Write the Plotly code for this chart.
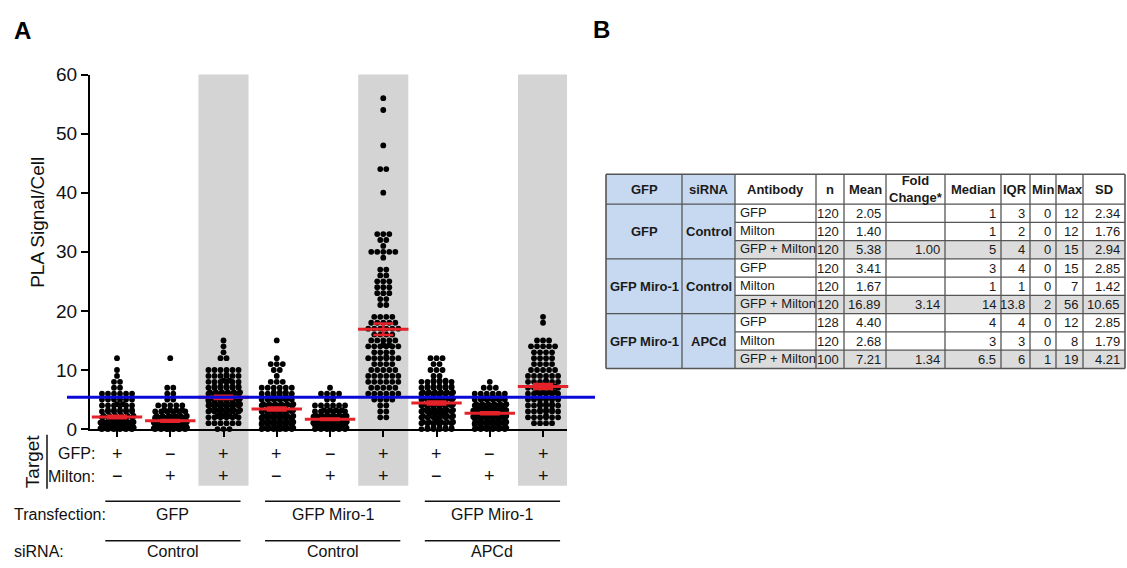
import math
import plotly.graph_objects as go

W, H = 1127, 568

# ---------------- Panel A: PLA signal per cell ----------------
# Nine conditions, left to right
gfp_target = ["+", "−", "+", "+", "−", "+", "+", "−", "+"]
milton_target = ["−", "+", "+", "−", "+", "+", "−", "+", "+"]
transfection_labels = ["GFP", "GFP Miro-1", "GFP Miro-1"]
sirna_labels = ["Control", "Control", "APCd"]
highlighted = [2, 5, 8]  # GFP + Milton conditions

# PLA puncta per cell -> number of cells with that count
counts_gfp_ctrl_gfp = {0: 42, 1: 25, 2: 15, 3: 11, 4: 8, 5: 6, 6: 6, 7: 2, 8: 2, 9: 1, 10: 1, 12: 1}
counts_gfp_ctrl_milton = {0: 45, 1: 33, 2: 20, 3: 10, 4: 5, 5: 2, 6: 2, 7: 2, 12: 1}
counts_gfp_ctrl_both = {0: 3, 1: 6, 2: 10, 3: 14, 4: 16, 5: 18, 6: 16, 7: 11, 8: 8, 9: 7, 10: 6,
                        12: 2, 13: 1, 14: 1, 15: 1}
counts_miro_ctrl_gfp = {0: 20, 1: 18, 2: 18, 3: 16, 4: 12, 5: 10, 6: 9, 7: 6, 8: 3, 9: 1, 10: 2,
                        11: 3, 12: 1, 15: 1}
counts_miro_ctrl_milton = {0: 21, 1: 48, 2: 28, 3: 10, 4: 6, 5: 2, 6: 4, 7: 1}
counts_miro_ctrl_both = {2: 2, 3: 2, 4: 2, 5: 4, 6: 6, 7: 5, 8: 6, 9: 6, 10: 5, 11: 4, 12: 7, 13: 4,
                         14: 8, 15: 5, 16: 4, 17: 6, 18: 5, 19: 4, 21: 2, 22: 2, 23: 3, 24: 3,
                         25: 3, 26: 2, 27: 2, 29: 1, 30: 5, 31: 1, 32: 2, 33: 3, 40: 1, 44: 2,
                         48: 1, 54: 1, 56: 1}
counts_miro_apcd_gfp = {0: 11, 1: 14, 2: 13, 3: 15, 4: 16, 5: 15, 6: 14, 7: 11, 8: 9, 9: 2, 10: 3,
                        11: 2, 12: 3}
counts_miro_apcd_milton = {0: 15, 1: 20, 2: 24, 3: 24, 4: 17, 5: 10, 6: 6, 7: 3, 8: 1}
counts_miro_apcd_both = {1: 4, 2: 7, 3: 9, 4: 9, 5: 11, 6: 10, 7: 10, 8: 7, 9: 6, 10: 5, 11: 4,
                         12: 4, 13: 4, 14: 5, 15: 3, 18: 1, 19: 1}

group_counts = [counts_gfp_ctrl_gfp, counts_gfp_ctrl_milton, counts_gfp_ctrl_both,
                counts_miro_ctrl_gfp, counts_miro_ctrl_milton, counts_miro_ctrl_both,
                counts_miro_apcd_gfp, counts_miro_apcd_milton, counts_miro_apcd_both]

# ---------------- Panel B: summary table ----------------
tbl_transfection = ["GFP", "GFP Miro-1", "GFP Miro-1"]
tbl_sirna = ["Control", "Control", "APCd"]
tbl_antibody = ["GFP", "Milton", "GFP + Milton"] * 3
tbl_n = [120, 120, 120, 120, 120, 120, 128, 120, 100]
tbl_mean = [2.05, 1.40, 5.38, 3.41, 1.67, 16.89, 4.40, 2.68, 7.21]
tbl_fold = [None, None, 1.00, None, None, 3.14, None, None, 1.34]
tbl_median = [1, 1, 5, 3, 1, 14, 4, 3, 6.5]
tbl_iqr = [3, 2, 4, 4, 1, 13.8, 4, 3, 6]
tbl_min = [0, 0, 0, 0, 0, 2, 0, 0, 1]
tbl_max = [12, 12, 15, 15, 7, 56, 12, 8, 19]
tbl_sd = [2.34, 1.76, 2.94, 2.85, 1.42, 10.65, 2.85, 1.79, 4.21]

FONT = "Liberation Sans, Arial, sans-serif"
RED = "#e4222a"
BLUE = "#0a0ad8"
BAND = "#d4d4d4"
INK = "#111111"


def px(x):
    return x / W


def py(y):
    return 1 - y / H


# vertical layout (pixels from the top)
AX_TOP, AX_BOT = 67, 435.2        # y = 60 and y = 0
BAND_BOT = 494
ROW_GFP, ROW_MILTON = 461, 484
TRANS_LINE, TRANS_TEXT = 510, 524
SIRNA_LINE, SIRNA_TEXT = 551, 562

# ---- beeswarm layout of the dots ----
PITCH = 0.113      # horizontal dot spacing in category units
PER_LINE = 6       # dots side by side before stacking
V_SHIFT = [0, 0.22, -0.22, 0.11, -0.11, 0.3, -0.3, 0.05, -0.05]


def swarm(center, counts):
    xs, ys = [], []
    for v, c in counts.items():
        left, line = c, 0
        while left > 0:
            k = min(PER_LINE, left)
            shift = 0.5 * PITCH if line % 2 == 1 else 0.0
            if k == PER_LINE and line % 2 == 1:
                shift = 0.25 * PITCH * (1 if line % 4 == 1 else -1)
            for j in range(k):
                xs.append(center + (j - (k - 1) / 2) * PITCH + shift)
                ys.append(v + V_SHIFT[line % len(V_SHIFT)])
            left -= k
            line += 1
    return xs, ys


dot_x, dot_y = [], []
for gi, cnt in enumerate(group_counts):
    xs, ys = swarm(gi, cnt)
    dot_x += xs
    dot_y += ys

fig = go.Figure()
fig.add_trace(go.Scatter(
    x=dot_x, y=dot_y, mode="markers", cliponaxis=False,
    marker=dict(size=5.8, color="black", line=dict(width=0)),
    hoverinfo="skip", showlegend=False))

# mean ± SEM
sem = [s / math.sqrt(n) for s, n in zip(tbl_sd, tbl_n)]
fig.add_trace(go.Scatter(
    x=list(range(9)), y=tbl_mean, mode="markers", cliponaxis=False,
    marker=dict(symbol="line-ew", size=36, color=RED, line=dict(width=3, color=RED)),
    error_y=dict(type="data", array=sem, visible=True, color=RED, thickness=2.5, width=10),
    showlegend=False))

shapes = []
annotations = []


def label(x, y, s, size=16, xref="paper", xanchor="center", angle=0, color=INK):
    annotations.append(dict(x=x, y=y, xref=xref, yref="paper", text=s, textangle=angle,
                            xanchor=xanchor, yanchor="middle", showarrow=False,
                            font=dict(size=size, color=color, family=FONT)))


# grey bands behind GFP + Milton conditions
for gi in highlighted:
    shapes.append(dict(type="rect", xref="x", yref="paper", x0=gi - 0.47, x1=gi + 0.47,
                       y0=py(BAND_BOT), y1=py(AX_TOP), fillcolor=BAND, line=dict(width=0),
                       layer="below"))

# reference line at the GFP / Control / GFP + Milton mean
shapes.append(dict(type="line", xref="paper", yref="y", x0=px(67), x1=px(595),
                   y0=tbl_mean[2], y1=tbl_mean[2], line=dict(color=BLUE, width=3)))

# target rows
for gi in range(9):
    label(gi, py(ROW_GFP), gfp_target[gi], size=18, xref="x")
    label(gi, py(ROW_MILTON), milton_target[gi], size=18, xref="x")
label(px(97), py(ROW_GFP), "GFP:", xanchor="right")
label(px(97), py(ROW_MILTON), "Milton:", xanchor="right")
label(px(32), py((ROW_GFP + ROW_MILTON) / 2 - 4), "Target", size=19, angle=-90)
shapes.append(dict(type="line", xref="paper", yref="paper", x0=px(47), x1=px(47),
                   y0=py(ROW_GFP - 20), y1=py(ROW_MILTON + 13),
                   line=dict(color=INK, width=1.5)))

# transfection / siRNA rows
for k in range(3):
    for yl in (TRANS_LINE, SIRNA_LINE):
        shapes.append(dict(type="line", xref="x", yref="paper", x0=3 * k - 0.22,
                           x1=3 * k + 2.32, y0=py(yl), y1=py(yl),
                           line=dict(color=INK, width=1.5)))
    label(3 * k + 1.05, py(TRANS_TEXT), transfection_labels[k], xref="x")
    label(3 * k + 1.05, py(SIRNA_TEXT), sirna_labels[k], xref="x")
label(px(12), py(TRANS_TEXT), "Transfection:", xanchor="left")
label(px(12), py(SIRNA_TEXT), "siRNA:", xanchor="left")

label(px(38), py(221), "PLA Signal/Cell", size=19, angle=-90)

# panel letters
label(px(22), py(21), "<b>A</b>", size=24, color="black")
label(px(601), py(20), "<b>B</b>", size=24, color="black")

# ---- table ----
COLS = [606, 682, 735, 816, 844, 886, 945, 1001, 1030, 1056, 1083, 1125]
TOP, HEAD_BOT, ROW_H = 170.5, 201.6, 18.96
rows_y = [HEAD_BOT + i * ROW_H for i in range(10)]
BOTTOM = rows_y[-1]
BLUE_FILL = "#c6d9f1"
GREY_FILL = "#dcdcdc"
BORDER = "#555555"
TFONT = dict(size=13, color="#1a1a1a", family=FONT)


def rect(x0, y0, x1, y1, fill):
    shapes.append(dict(type="rect", xref="paper", yref="paper", x0=px(x0), x1=px(x1),
                       y0=py(y1), y1=py(y0), fillcolor=fill, line=dict(width=0),
                       layer="below"))


def hline(x0, x1, y, w=1.3):
    shapes.append(dict(type="line", xref="paper", yref="paper", x0=px(x0), x1=px(x1),
                       y0=py(y), y1=py(y), line=dict(color=BORDER, width=w)))


def vline(x, y0, y1, w=1.3):
    shapes.append(dict(type="line", xref="paper", yref="paper", x0=px(x), x1=px(x),
                       y0=py(y0), y1=py(y1), line=dict(color=BORDER, width=w)))


def text(x, y, s, anchor="center", bold=False):
    annotations.append(dict(x=px(x), y=py(y), xref="paper", yref="paper",
                            text=f"<b>{s}</b>" if bold else s, xanchor=anchor,
                            yanchor="middle", showarrow=False, font=TFONT))


rect(COLS[0], TOP, COLS[2], BOTTOM, BLUE_FILL)
for r in range(9):
    if tbl_fold[r] is not None:
        rect(COLS[2], rows_y[r], COLS[-1], rows_y[r + 1], GREY_FILL)

# borders
hline(COLS[0], COLS[-1], TOP, 1.6)
hline(COLS[0], COLS[-1], HEAD_BOT)
for r in range(1, 9):
    x_start = COLS[0] if r % 3 == 0 else COLS[2]
    hline(x_start, COLS[-1], rows_y[r])
hline(COLS[0], COLS[-1], BOTTOM, 1.6)
for i, c in enumerate(COLS):
    vline(c, TOP, BOTTOM, 1.6 if i in (0, len(COLS) - 1) else 1.3)

# header
headers = ["GFP", "siRNA", "Antibody", "n", "Mean", "Fold<br>Change*", "Median", "IQR",
           "Min", "Max", "SD"]
hy = (TOP + HEAD_BOT) / 2
for i, h in enumerate(headers):
    text((COLS[i] + COLS[i + 1]) / 2, hy, h, bold=True)


def fmt(v, decimals=None):
    if v is None:
        return ""
    if decimals is not None:
        return f"{v:.{decimals}f}"
    return str(int(v)) if float(v).is_integer() else str(v)


for k in range(3):
    yc = (rows_y[3 * k] + rows_y[3 * k + 3]) / 2
    text((COLS[0] + COLS[1]) / 2, yc, tbl_transfection[k], bold=True)
    text((COLS[1] + COLS[2]) / 2, yc, tbl_sirna[k], bold=True)

for r in range(9):
    yc = (rows_y[r] + rows_y[r + 1]) / 2
    text(COLS[2] + 3, yc - 1, tbl_antibody[r], anchor="left")
    vals = [fmt(tbl_n[r]), fmt(tbl_mean[r], 2), fmt(tbl_fold[r], 2), fmt(tbl_median[r]),
            fmt(tbl_iqr[r]), fmt(tbl_min[r]), fmt(tbl_max[r]), fmt(tbl_sd[r], 2)]
    for j, s in enumerate(vals):
        if s:
            text(COLS[4 + j] - 3, yc, s, anchor="right")

fig.update_layout(
    width=W, height=H, margin=dict(l=0, r=0, t=0, b=0),
    paper_bgcolor="white", plot_bgcolor="rgba(0,0,0,0)",
    font=dict(family=FONT, color=INK),
    shapes=shapes, annotations=annotations, showlegend=False,
    xaxis=dict(domain=[px(90), px(567)], range=[-0.507, 8.45], showline=True,
               linecolor="black", linewidth=2, ticks="outside", tickvals=list(range(9)),
               ticklen=6, tickwidth=2, tickcolor="black", showticklabels=False,
               showgrid=False, zeroline=False),
    yaxis=dict(domain=[py(AX_BOT), py(AX_TOP)], range=[0, 60], showline=True,
               linecolor="black", linewidth=2, ticks="outside",
               tickvals=[0, 10, 20, 30, 40, 50, 60], ticklen=7, tickwidth=2,
               tickcolor="black", tickfont=dict(size=19, color=INK, family=FONT),
               showgrid=False, zeroline=False),
)

fig.write_html("out.html")
